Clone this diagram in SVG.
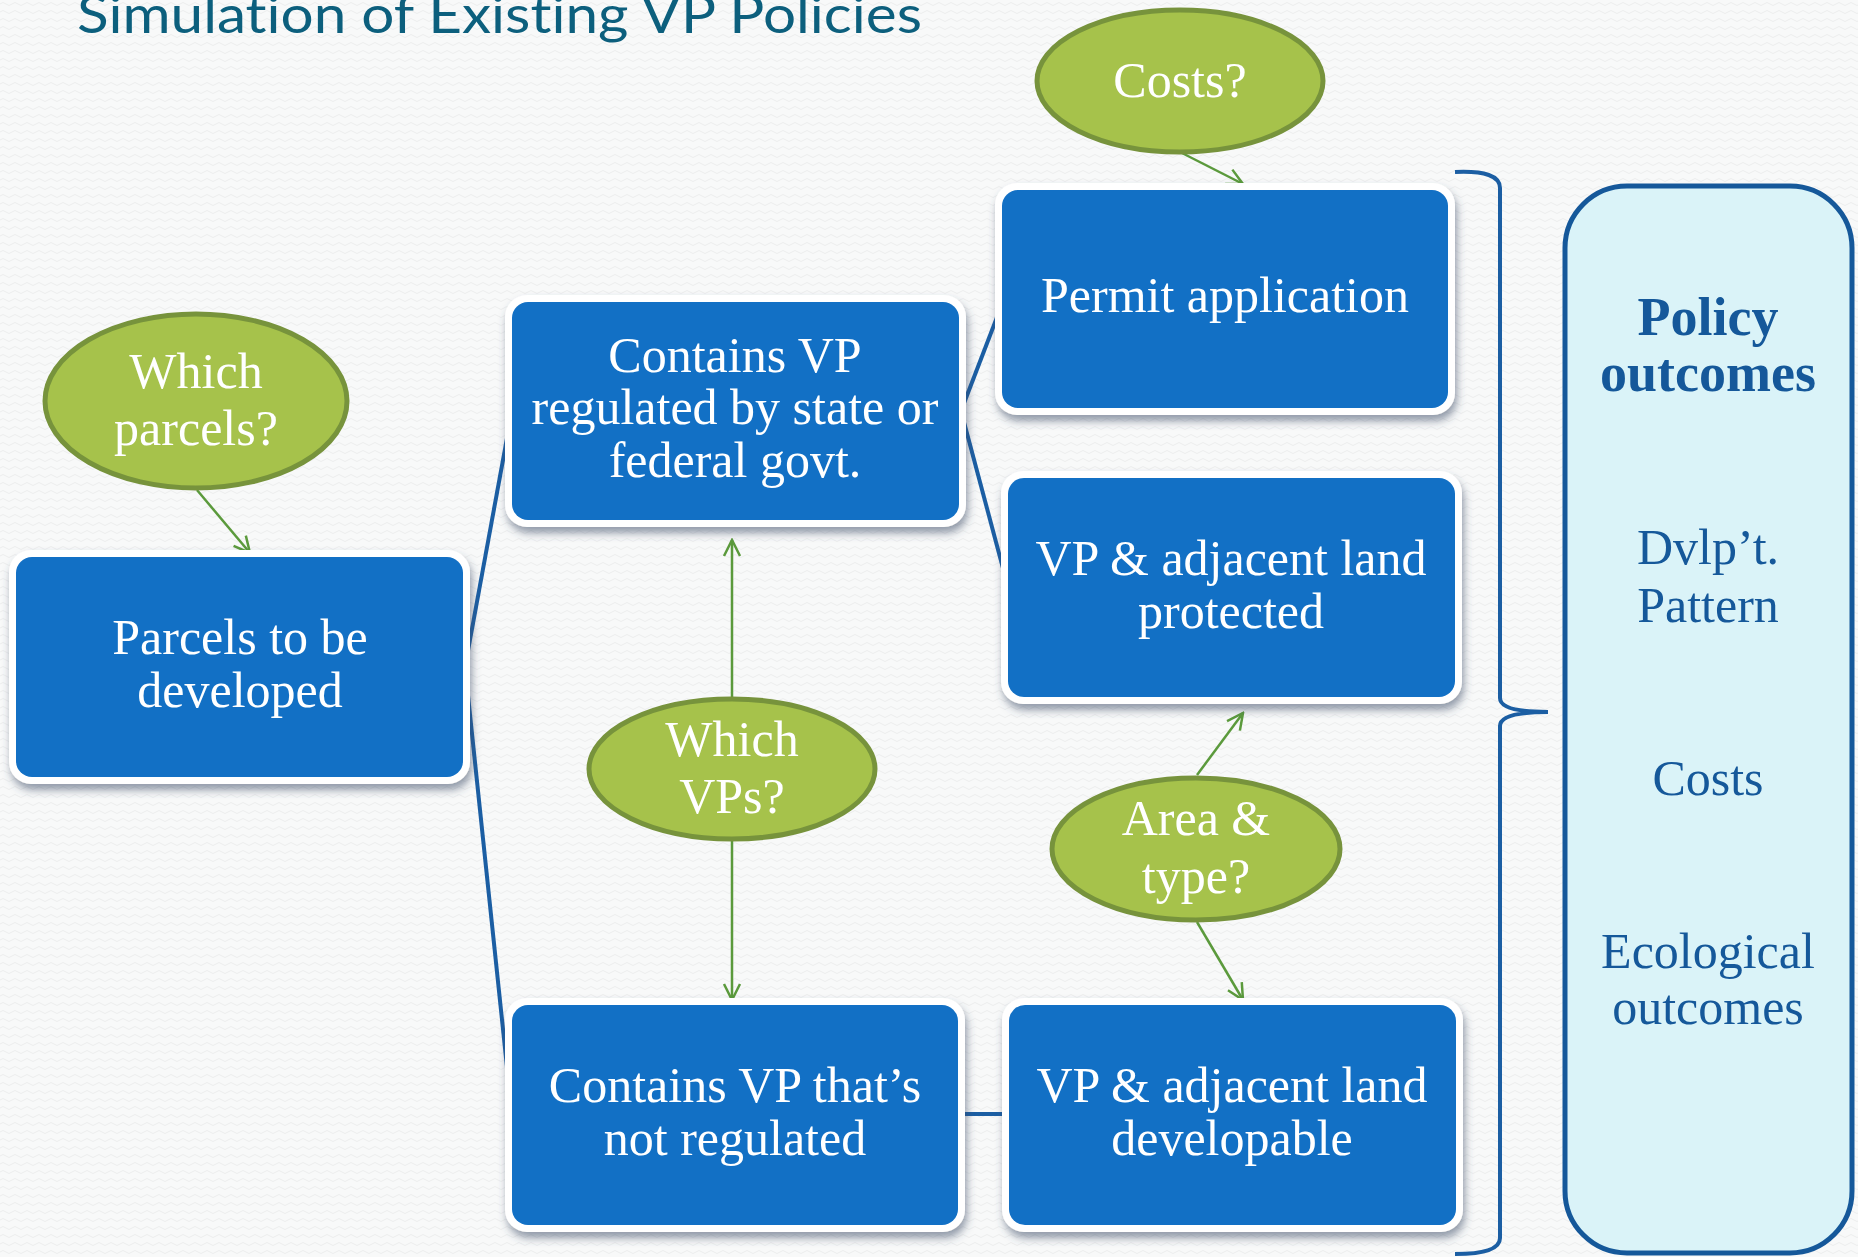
<svg xmlns="http://www.w3.org/2000/svg" width="1858" height="1257" viewBox="0 0 1858 1257">
  <defs>
    <pattern id="bgWave" width="12" height="8" patternUnits="userSpaceOnUse">
      <rect width="12" height="8" fill="#f8f9f9"/>
      <path d="M0,4 Q3,1 6,4 T12,4" fill="none" stroke="#eceeee" stroke-width="1"/>
    </pattern>
    <filter id="boxShadow" x="-10%" y="-10%" width="125%" height="130%">
      <feGaussianBlur in="SourceAlpha" stdDeviation="4"/>
      <feOffset dx="2" dy="6" result="blur"/>
      <feFlood flood-color="#3b4b66" flood-opacity="0.55"/>
      <feComposite in2="blur" operator="in"/>
      <feMerge>
        <feMergeNode/>
        <feMergeNode in="SourceGraphic"/>
      </feMerge>
    </filter>
    <marker id="openArrow" viewBox="0 0 20 20" refX="18" refY="10" markerWidth="20" markerHeight="20" markerUnits="userSpaceOnUse" orient="auto">
      <path d="M2,2 L18,10 L2,18" fill="none" stroke="#5b9a3c" stroke-width="2.5"/>
    </marker>
    <style>
      .frame { fill: #ffffff; filter: url(#boxShadow); }
      .box { fill: #1270c5; }
      .bubble { fill: #a6c24b; stroke: #77933c; stroke-width: 5; }
      .label { font-family: "Liberation Serif", "DejaVu Serif", serif; font-size: 50px; fill: #ffffff; text-anchor: middle; }
      .outcome { font-family: "Liberation Serif", "DejaVu Serif", serif; font-size: 50px; fill: #15589a; text-anchor: middle; }
      .outcome-head { font-weight: bold; font-size: 54px; }
      .link { fill: none; stroke: #1b5ea3; stroke-width: 4; }
      .ask { fill: none; stroke: #5b9a3c; stroke-width: 2.5; marker-end: url(#openArrow); }
      .heading { font-family: Lato, "Open Sans", sans-serif; font-size: 52px; fill: #0c5f7d; font-variant-ligatures: none; }
    </style>
  </defs>

  <!-- backdrop -->
  <rect width="1858" height="1257" fill="url(#bgWave)"/>

  <!-- heading -->
  <text class="heading" x="77" y="33" textLength="845" lengthAdjust="spacingAndGlyphs">Simulation of Existing VP Policies</text>

  <!-- connectors -->
  <g id="connectors">
    <path class="link" d="M465,667 L512,411"/>
    <path class="link" d="M465,667 L512,1115"/>
    <path class="link" d="M961,411 L1004,299"/>
    <path class="link" d="M961,411 L1008,587"/>
    <path class="link" d="M958,1114 L1009,1114"/>
    <path class="link" d="M1455,172 Q1500,170 1500,188 L1500,698 Q1500,712 1548,712 Q1500,712 1500,726 L1500,1238 Q1500,1254 1455,1254"/>
    <path class="ask" d="M197,490 L250,553"/>
    <path class="ask" d="M1182,153 L1243,184"/>
    <path class="ask" d="M732,697 L732,540"/>
    <path class="ask" d="M732,841 L732,1000"/>
    <path class="ask" d="M1197,775 L1243,713"/>
    <path class="ask" d="M1197,922 L1243,1000"/>
  </g>

  <!-- process boxes -->
  <g id="parcels">
    <rect class="frame" x="9" y="550" width="461" height="234" rx="22"/>
    <rect class="box" x="16" y="557" width="447" height="220" rx="16"/>
    <text class="label" x="240" y="654">Parcels to be</text>
    <text class="label" x="240" y="707">developed</text>
  </g>

  <g id="regulated">
    <rect class="frame" x="505" y="295" width="461" height="232" rx="22"/>
    <rect class="box" x="512" y="302" width="447" height="218" rx="16"/>
    <text class="label" x="735" y="372">Contains VP</text>
    <text class="label" x="735" y="424">regulated by state or</text>
    <text class="label" x="735" y="477">federal govt.</text>
  </g>

  <g id="permit">
    <rect class="frame" x="995" y="183" width="460" height="232" rx="22"/>
    <rect class="box" x="1002" y="190" width="446" height="218" rx="16"/>
    <text class="label" x="1225" y="312">Permit application</text>
  </g>

  <g id="protected">
    <rect class="frame" x="1001" y="471" width="461" height="233" rx="22"/>
    <rect class="box" x="1008" y="478" width="447" height="219" rx="16"/>
    <text class="label" x="1231" y="575">VP &amp; adjacent land</text>
    <text class="label" x="1231" y="628">protected</text>
  </g>

  <g id="unregulated">
    <rect class="frame" x="505" y="998" width="460" height="234" rx="22"/>
    <rect class="box" x="512" y="1005" width="446" height="220" rx="16"/>
    <text class="label" x="735" y="1102">Contains VP that’s</text>
    <text class="label" x="735" y="1155">not regulated</text>
  </g>

  <g id="developable">
    <rect class="frame" x="1002" y="998" width="461" height="234" rx="22"/>
    <rect class="box" x="1009" y="1005" width="447" height="220" rx="16"/>
    <text class="label" x="1232" y="1102">VP &amp; adjacent land</text>
    <text class="label" x="1232" y="1155">developable</text>
  </g>

  <!-- question bubbles -->
  <g id="which-parcels">
    <ellipse class="bubble" cx="196" cy="401" rx="151" ry="87"/>
    <text class="label" x="196" y="388">Which</text>
    <text class="label" x="196" y="445">parcels?</text>
  </g>

  <g id="costs-q">
    <ellipse class="bubble" cx="1180" cy="81" rx="143" ry="71"/>
    <text class="label" x="1180" y="97">Costs?</text>
  </g>

  <g id="which-vps">
    <ellipse class="bubble" cx="732" cy="769" rx="143" ry="70"/>
    <text class="label" x="732" y="756">Which</text>
    <text class="label" x="732" y="813">VPs?</text>
  </g>

  <g id="area-type">
    <ellipse class="bubble" cx="1196" cy="849" rx="144" ry="71"/>
    <text class="label" x="1196" y="835">Area &amp;</text>
    <text class="label" x="1196" y="893">type?</text>
  </g>

  <!-- outcomes panel -->
  <g id="outcomes">
    <rect x="1565" y="186" width="287" height="1067" rx="62" fill="#daf3f8" stroke="#15589a" stroke-width="5"/>
    <text class="outcome outcome-head" x="1708" y="335">Policy</text>
    <text class="outcome outcome-head" x="1708" y="391">outcomes</text>
    <text class="outcome" x="1708" y="564">Dvlp’t.</text>
    <text class="outcome" x="1708" y="622">Pattern</text>
    <text class="outcome" x="1708" y="795">Costs</text>
    <text class="outcome" x="1708" y="968">Ecological</text>
    <text class="outcome" x="1708" y="1024">outcomes</text>
  </g>
</svg>
